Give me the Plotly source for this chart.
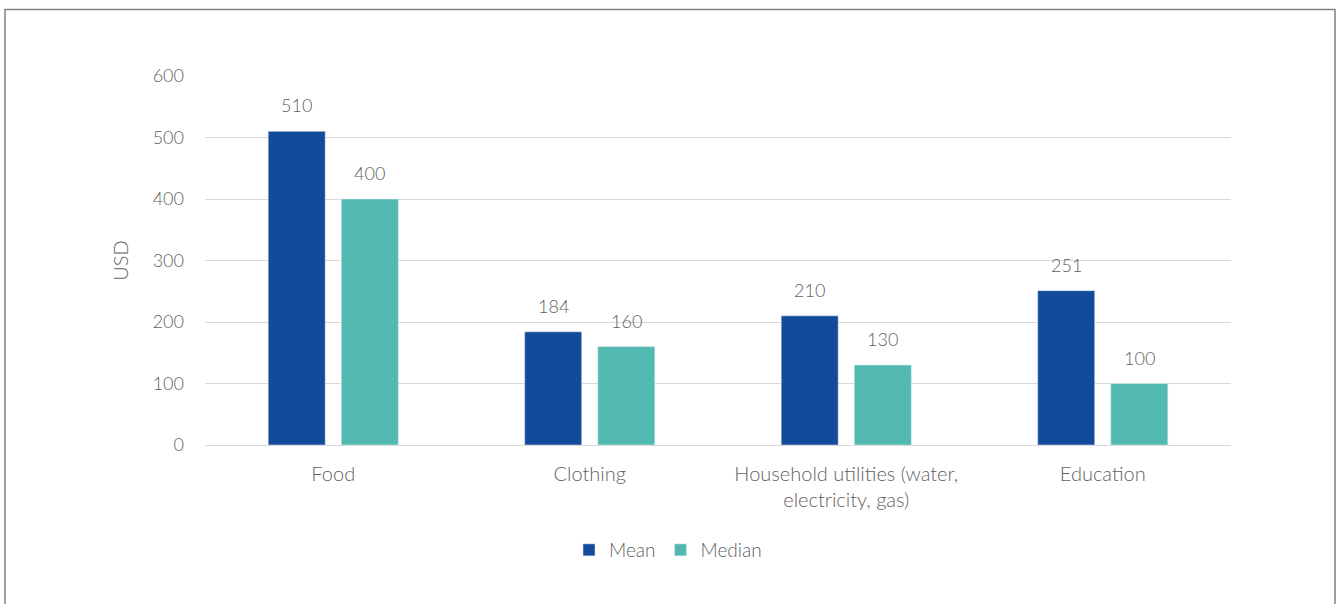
import plotly.graph_objects as go

categories = ["Food", "Clothing", "Household utilities (water,<br>electricity, gas)", "Education"]
mean_values = [510, 184, 210, 251]
median_values = [400, 160, 130, 100]
y_ticks = [0, 100, 200, 300, 400, 500, 600]

W, H = 1339, 604
L, R, T, B = 205, 108, 76, 159
plot_w = W - L - R
plot_h = H - T - B

BLUE = "#134b9a"
TEAL = "#52b9b0"
GREY_TXT = "#5f5f5f"
FONT = "Lato"
FW = 300

fig = go.Figure()
fig.add_trace(go.Bar(name="Mean", x=categories, y=mean_values, marker_color=BLUE))
fig.add_trace(go.Bar(name="Median", x=categories, y=median_values, marker_color=TEAL))

# value labels above each bar
slot = 73
for vals, shift in ((mean_values, -slot / 2), (median_values, slot / 2)):
    for c, v in zip(categories, vals):
        fig.add_annotation(x=c, y=v, text=str(v), showarrow=False, xref="x", yref="y",
                           xshift=shift, yshift=26, yanchor="middle",
                           font=dict(family=FONT, size=18, color=GREY_TXT, weight=FW))

# outer frame
def px_x(p):
    return (p - L) / plot_w

def px_y(p):
    return (T + plot_h - p) / plot_h

fig.add_shape(type="rect", xref="paper", yref="paper",
              x0=px_x(5), x1=px_x(1335), y0=px_y(640), y1=px_y(9.5),
              line=dict(color="#808080", width=1.5), fillcolor="rgba(0,0,0,0)", layer="below")

num_font = dict(family=FONT, size=18, color=GREY_TXT, weight=FW)
word_font = dict(family=FONT, size=20, color=GREY_TXT, weight=FW)

fig.update_layout(
    width=W, height=H,
    margin=dict(l=L, r=R, t=T, b=B),
    paper_bgcolor="white", plot_bgcolor="white",
    barmode="group", bargap=0.43, bargroupgap=0.22,
    font=num_font,
    showlegend=True,
    legend=dict(orientation="h", x=px_x(668), xanchor="center", y=px_y(550), yanchor="middle",
                font=dict(family=FONT, size=19, color=GREY_TXT, weight=FW),
                itemwidth=30, traceorder="normal"),
    xaxis=dict(showgrid=False, showline=False, ticks="", tickfont=word_font,
               ticklabelstandoff=15),
    yaxis=dict(range=[0, 600], tickvals=y_ticks, showgrid=True, gridcolor="#d9d9d9", gridwidth=1,
               zeroline=True, zerolinecolor="#d9d9d9", zerolinewidth=1, showline=False, ticks="",
               tickfont=num_font, ticklabelstandoff=20,
               title=dict(text="USD", font=word_font, standoff=18)),
)

fig.write_html("out.html")
